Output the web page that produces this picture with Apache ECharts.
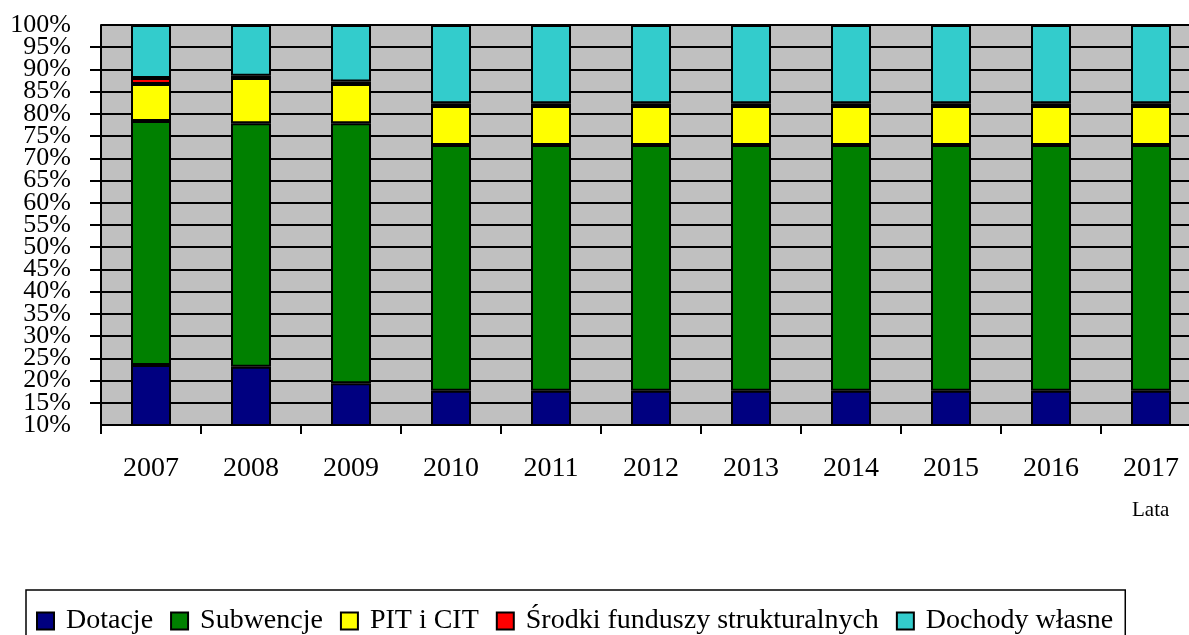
<!DOCTYPE html>
<html>
<head>
<meta charset="utf-8">
<script src="https://cdn.jsdelivr.net/npm/echarts@6/dist/echarts.min.js"></script>
<style>
html,body{margin:0;padding:0;background:#fff;}
#chart{width:1189px;height:635px;}
</style>
</head>
<body>
<div id="chart"></div>
<script>
const years = ['2007','2008','2009','2010','2011','2012','2013','2014','2015','2016','2017'];
const dotacje    = [23.5, 23.1, 19.4, 17.7, 17.7, 17.7, 17.7, 17.7, 17.7, 17.7, 17.7];
const subwencje  = [54.9, 54.8, 58.5, 55.3, 55.3, 55.3, 55.3, 55.3, 55.3, 55.3, 55.3];
const pitCit     = [8.3, 10.2, 8.8, 8.8, 8.8, 8.8, 8.8, 8.8, 8.8, 8.8, 8.8];
const srodki     = [1.4, 0.5, 0.6, 0.6, 0.6, 0.6, 0.6, 0.6, 0.6, 0.6, 0.6];
const dochody    = [11.9, 11.4, 12.7, 17.6, 17.6, 17.6, 17.6, 17.6, 17.6, 17.6, 17.6];
const seriesNames = ['Dotacje', 'Subwencje', 'PIT i CIT', 'Środki funduszy strukturalnych', 'Dochody własne'];
const seriesColors = ['#000080', '#008000', '#FFFF00', '#FF0000', '#33CCCC'];
const seriesData = [dotacje, subwencje, pitCit, srodki, dochody];
const yMin = 10, yMax = 100, yStep = 5;

const FONT = '"Liberation Serif", "Times New Roman", serif';
const chart = echarts.init(document.getElementById('chart'), null, {renderer: 'canvas'});
const yLabel = {formatter: '{value}%', fontFamily: FONT, fontSize: 26, color: '#000', margin: 30};
chart.setOption({
  animation: false,
  backgroundColor: '#ffffff',
  grid: {
    left: 101, top: 25, width: 1100, height: 400,
    show: true, backgroundColor: '#C0C0C0', borderWidth: 0,
    containLabel: false, outerBoundsMode: 'none'
  },
  xAxis: {
    type: 'category',
    data: years,
    boundaryGap: true,
    axisLine: {show: true, lineStyle: {color: '#000', width: 2}},
    axisTick: {show: true, length: 9, lineStyle: {color: '#000', width: 2}},
    axisLabel: {fontFamily: FONT, fontSize: 28, color: '#000', margin: 30, interval: 0}
  },
  yAxis: [{
    type: 'value',
    min: yMin, max: yMax, interval: yStep,
    axisLine: {show: true, lineStyle: {color: '#000', width: 2}},
    axisTick: {show: true, length: 11, lineStyle: {color: '#000', width: 2}},
    axisLabel: Object.assign({}, yLabel, {showMinLabel: false, showMaxLabel: false}),
    splitLine: {show: true, lineStyle: {color: '#000', width: 2}}
  }, {
    type: 'value',
    position: 'left',
    min: yMin, max: yMax, interval: yMax - yMin,
    axisLine: {show: false},
    axisTick: {show: false},
    axisLabel: Object.assign({}, yLabel, {showMinLabel: true, showMaxLabel: true}),
    splitLine: {show: false}
  }],
  legend: {
    data: seriesNames,
    left: 26, top: 590,
    orient: 'horizontal',
    padding: [17, 12, 17, 10],
    borderColor: '#000', borderWidth: 1.5,
    backgroundColor: '#fff',
    icon: 'rect',
    itemWidth: 17, itemHeight: 17, itemGap: 17,
    textStyle: {fontFamily: FONT, fontSize: 28, color: '#000', padding: [0, 0, 0, 7]}
  },
  graphic: [{
    type: 'text', left: 1132, top: 500,
    style: {text: 'Lata', font: '21px "Liberation Serif", serif', fill: '#000'}
  }],
  series: seriesNames.map((name, i) => ({
    name: name,
    type: 'bar',
    stack: 'total',
    yAxisIndex: 0,
    barWidth: 40,
    data: seriesData[i],
    itemStyle: {color: seriesColors[i], borderColor: '#000', borderWidth: 2}
  }))
});
</script>
</body>
</html>
